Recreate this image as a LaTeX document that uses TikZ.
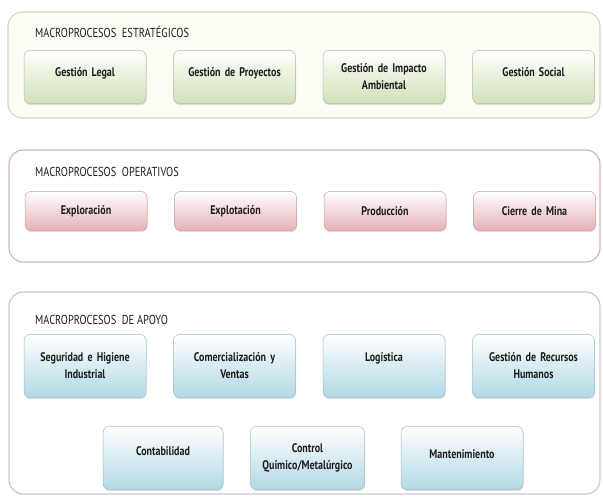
\documentclass[tikz,border=0pt]{standalone}
\usepackage{fontspec}
\setmainfont{PT Sans}[FakeStretch=0.8]
\usepackage{tikz}
\usetikzlibrary{positioning,shadows}

\definecolor{estBorde}{HTML}{D3D8C2}
\definecolor{estFondo}{HTML}{FCFCF5}
\definecolor{estCaja}{HTML}{CFE1B6}
\definecolor{estLinea}{HTML}{B3BCA2}
\definecolor{opeBorde}{HTML}{D6B3B8}
\definecolor{opeCaja}{HTML}{E6B1B6}
\definecolor{opeLinea}{HTML}{C3A0A4}
\definecolor{apoBorde}{HTML}{C4C9CF}
\definecolor{apoCaja}{HTML}{B1D8E5}
\definecolor{apoLinea}{HTML}{A3BBC6}
\definecolor{texto}{HTML}{1E1E1E}

\begin{document}
\begin{tikzpicture}[x=1pt, y=1pt]
% STYLES
\tikzset{
    panel/.style={rounded corners=14pt, line width=1.2pt},
    titulo/.style={anchor=west, inner sep=0pt, font=\fontsize{13}{15}\selectfont, text=texto},
    caja/.style={rectangle, rounded corners=6pt, draw, line width=0.5pt,
    align=center, minimum width=122pt, text width=116pt, inner sep=2pt,
    font=\bfseries\fontsize{12.5}{17}\selectfont, text=texto,
    drop shadow={opacity=0.25, shadow xshift=0.6pt, shadow yshift=-1.6pt}},
    cajaEst/.style={caja, minimum height=53pt, draw=estLinea, top color=white, bottom color=estCaja},
    cajaOpe/.style={caja, minimum height=39pt, draw=opeLinea, top color=white, bottom color=opeCaja},
    cajaApo/.style={caja, minimum height=63pt, draw=apoLinea, top color=white, bottom color=apoCaja}
}
\useasboundingbox (0,0) rectangle (603,496);

% Panels
\draw[panel, draw=estBorde, fill=estFondo] (8,378) rectangle (600,484);
\draw[panel, draw=opeBorde, fill=white] (9,234) rectangle (600,346);
\draw[panel, draw=apoBorde, fill=white] (9,2) rectangle (600,204);

% Macroprocesos estrategicos
\node[titulo] (tEst) at (35,464) {MACROPROCESOS\ \ ESTRATÉGICOS};
\node[cajaEst] (legal) at (85,419) {Gestión Legal\\[-8pt]\mbox{}};
\node[cajaEst, right=27pt of legal] (proyectos) {Gestión de Proyectos\\[-8pt]\mbox{}};
\node[cajaEst, right=27pt of proyectos] (impacto) {Gestión de Impacto\\Ambiental};
\node[cajaEst, right=27pt of impacto] (social) {Gestión Social\\[-8pt]\mbox{}};

% Macroprocesos operativos
\node[titulo] (tOpe) at (35,324) {MACROPROCESOS\ \ OPERATIVOS};
\node[cajaOpe] (exploracion) at (86,285) {Exploración};
\node[cajaOpe, right=27pt of exploracion] (explotacion) {Explotación};
\node[cajaOpe, right=27pt of explotacion] (produccion) {Producción};
\node[cajaOpe, right=27pt of produccion] (cierre) {Cierre de Mina};

% Macroprocesos de apoyo
\node[titulo] (tApo) at (35,176) {MACROPROCESOS\ \ DE APOYO};
\node[cajaApo] (seguridad) at (85,130) {Seguridad e Higiene\\Industrial};
\node[cajaApo, right=27pt of seguridad] (comercial) {Comercialización y\\Ventas};
\node[cajaApo, right=27pt of comercial] (logistica) {Logística\\\mbox{}};
\node[cajaApo, right=27pt of logistica] (rrhh) {Gestión de Recursos\\Humanos};
\node[cajaApo, minimum width=119pt] (contabilidad) at (163,38) {Contabilidad\\[-4pt]\mbox{}};
\node[cajaApo, minimum width=114pt, text width=108pt, right=27pt of contabilidad] (control) {Control\\Químico/Metalúrgico};
\node[cajaApo, minimum width=122pt, right=36pt of control] (mantenimiento) {Mantenimiento\\[-10pt]\mbox{}};
\end{tikzpicture}
\end{document}
